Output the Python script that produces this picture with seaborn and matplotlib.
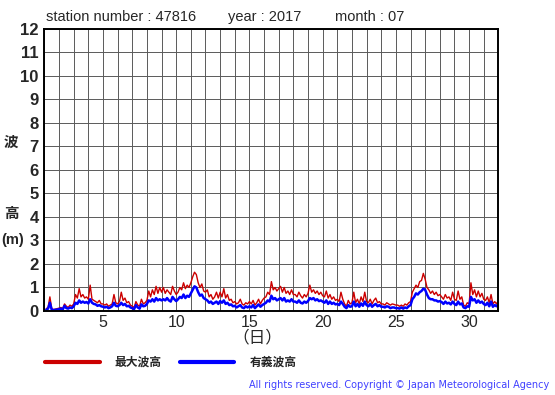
import numpy as np
import pandas as pd
import seaborn as sns
from matplotlib import pyplot as plt
from matplotlib.lines import Line2D
from matplotlib.ticker import MultipleLocator

# 3-hourly values, one row per day (1..31 July 2017)
max_wave = [
    0.10, 0.15, 0.60, 0.10, 0.06, 0.08, 0.10, 0.12,
    0.15, 0.10, 0.30, 0.20, 0.15, 0.25, 0.20, 0.30,
    0.70, 0.55, 0.95, 0.60, 0.70, 0.55, 0.60, 0.50,
    1.10, 0.50, 0.45, 0.40, 0.35, 0.45, 0.30, 0.30,
    0.25, 0.30, 0.20, 0.25, 0.30, 0.70, 0.35, 0.30,
    0.40, 0.80, 0.45, 0.55, 0.35, 0.40, 0.25, 0.20,
    0.15, 0.40, 0.25, 0.20, 0.50, 0.30, 0.35, 0.45,
    0.85, 0.60, 0.90, 0.70, 1.05, 0.75, 1.00, 0.80,
    1.00, 0.75, 0.90, 0.80, 0.70, 1.05, 0.85, 0.70,
    0.80, 1.00, 0.90, 1.20, 0.95, 1.10, 1.00, 1.20,
    1.45, 1.65, 1.55, 1.20, 1.00, 1.15, 0.85, 0.80,
    0.90, 0.60, 0.70, 0.50, 0.60, 0.80, 0.55, 0.80,
    0.60, 0.95, 0.55, 0.70, 0.45, 0.50, 0.35, 0.40,
    0.30, 0.35, 0.50, 0.30, 0.25, 0.35, 0.30, 0.40,
    0.30, 0.45, 0.25, 0.35, 0.50, 0.30, 0.45, 0.55,
    0.60, 0.80, 0.70, 1.25, 0.90, 1.00, 0.85, 0.95,
    1.05, 0.80, 1.00, 0.75, 0.85, 0.70, 0.90, 0.70,
    0.70, 0.60, 0.80, 0.65, 0.55, 0.70, 0.60, 0.75,
    1.10, 0.80, 0.90, 0.75, 0.85, 0.70, 0.80, 0.65,
    0.60, 0.85, 0.55, 0.70, 0.50, 0.60, 0.45, 0.50,
    0.40, 0.80, 0.50, 0.30, 0.20, 0.45, 0.30, 0.35,
    0.80, 0.35, 0.50, 0.30, 0.60, 0.40, 0.80, 0.40,
    0.35, 0.50, 0.30, 0.45, 0.55, 0.35, 0.40, 0.30,
    0.30, 0.25, 0.35, 0.30, 0.25, 0.30, 0.28, 0.25,
    0.25, 0.20, 0.25, 0.20, 0.30, 0.25, 0.35, 0.40,
    0.80, 0.95, 1.10, 1.00, 1.25, 1.30, 1.60, 1.35,
    1.00, 0.90, 0.75, 0.85, 0.70, 0.80, 0.65, 0.70,
    0.60, 0.50, 0.70, 0.55, 0.60, 0.45, 0.80, 0.50,
    0.45, 0.85, 0.50, 0.60, 0.25, 0.20, 0.35, 0.30,
    1.20, 0.70, 0.90, 0.60, 0.85, 0.60, 0.75, 0.50,
    0.45, 0.60, 0.35, 0.70, 0.30, 0.40, 0.30, 0.45,
]
sig_wave = [
    0.05, 0.10, 0.35, 0.05, 0.04, 0.05, 0.06, 0.08,
    0.10, 0.06, 0.22, 0.12, 0.10, 0.15, 0.12, 0.20,
    0.35, 0.30, 0.45, 0.35, 0.40, 0.35, 0.38, 0.32,
    0.50, 0.35, 0.30, 0.28, 0.22, 0.25, 0.20, 0.18,
    0.15, 0.18, 0.12, 0.15, 0.20, 0.35, 0.22, 0.20,
    0.25, 0.35, 0.25, 0.30, 0.20, 0.22, 0.15, 0.12,
    0.08, 0.25, 0.15, 0.10, 0.28, 0.20, 0.22, 0.30,
    0.45, 0.40, 0.50, 0.40, 0.55, 0.45, 0.50, 0.45,
    0.50, 0.45, 0.55, 0.45, 0.40, 0.60, 0.50, 0.42,
    0.50, 0.60, 0.55, 0.70, 0.55, 0.65, 0.60, 0.75,
    0.90, 1.05, 1.00, 0.80, 0.65, 0.70, 0.55, 0.50,
    0.45, 0.35, 0.40, 0.30, 0.35, 0.40, 0.30, 0.42,
    0.35, 0.45, 0.30, 0.35, 0.25, 0.28, 0.20, 0.22,
    0.15, 0.20, 0.25, 0.15, 0.12, 0.20, 0.15, 0.20,
    0.15, 0.25, 0.12, 0.20, 0.28, 0.18, 0.25, 0.30,
    0.35, 0.45, 0.40, 0.65, 0.50, 0.55, 0.45, 0.50,
    0.55, 0.45, 0.55, 0.40, 0.45, 0.40, 0.50, 0.40,
    0.40, 0.35, 0.45, 0.35, 0.32, 0.40, 0.35, 0.42,
    0.55, 0.50, 0.55, 0.45, 0.50, 0.42, 0.45, 0.40,
    0.35, 0.45, 0.30, 0.40, 0.30, 0.35, 0.28, 0.30,
    0.25, 0.40, 0.30, 0.18, 0.12, 0.25, 0.18, 0.20,
    0.40, 0.20, 0.30, 0.18, 0.32, 0.22, 0.40, 0.25,
    0.20, 0.30, 0.18, 0.25, 0.30, 0.20, 0.25, 0.18,
    0.18, 0.15, 0.20, 0.18, 0.12, 0.15, 0.15, 0.12,
    0.12, 0.10, 0.15, 0.10, 0.15, 0.12, 0.20, 0.25,
    0.50, 0.60, 0.75, 0.70, 0.80, 0.85, 0.95, 0.90,
    0.70, 0.55, 0.50, 0.50, 0.45, 0.45, 0.40, 0.42,
    0.38, 0.30, 0.40, 0.32, 0.35, 0.28, 0.40, 0.30,
    0.25, 0.40, 0.28, 0.32, 0.15, 0.12, 0.20, 0.18,
    0.60, 0.45, 0.50, 0.35, 0.45, 0.35, 0.40, 0.30,
    0.25, 0.35, 0.20, 0.40, 0.18, 0.25, 0.20, 0.30,
]
# time axis: day of month, every 3 hours
day_pos = 1 + np.arange(1, len(max_wave) + 1) * 3 / 24

df = pd.DataFrame({"day": day_pos, "max": max_wave, "sig": sig_wave})

sns.set_theme(style="white")
plt.rcParams['font.family'] = ['Liberation Sans', 'Noto Sans CJK JP', 'DejaVu Sans']

fig = plt.figure(figsize=(5.55, 3.95), dpi=100)
ax = fig.add_axes([0.080, 0.2127, 0.818, 0.7139])

sns.lineplot(data=df, x="day", y="max", color="#cc0000", lw=1.0, estimator=None, ax=ax)
sns.lineplot(data=df, x="day", y="sig", color="#0000ff", lw=1.8, estimator=None, ax=ax)

ax.set_xlim(1, 32)
ax.set_ylim(0, 12)
ax.set_xticks([5, 10, 15, 20, 25, 30])
ax.xaxis.set_minor_locator(MultipleLocator(1))
ax.set_yticks(range(0, 13))
ax.grid(which="both", color="#5a5a5a", lw=0.7)
ax.set_axisbelow(True)
ax.tick_params(axis="x", which="both", length=0, pad=3, labelsize=11.5)
ax.tick_params(axis="y", length=0, pad=4, labelsize=12)
for lab in ax.get_yticklabels():
    lab.set_fontweight("bold")
for sp in ax.spines.values():
    sp.set_color("black")
    sp.set_linewidth(1.4)
ax.set_xlabel("")
ax.set_ylabel("")

title_y = 0.957
fig.text(0.083, title_y, "station number : 47816", fontsize=10.5, ha="left", va="center")
fig.text(0.411, title_y, "year : 2017", fontsize=10.5, ha="left", va="center")
fig.text(0.604, title_y, "month : 07", fontsize=10.5, ha="left", va="center")

fig.text(0.463, 0.145, "（日）", fontsize=12, ha="center", va="center")
fig.text(0.020, 0.638, "波", fontsize=10.5, fontweight="bold", ha="center", va="center")
fig.text(0.020, 0.458, "高", fontsize=10.5, fontweight="bold", ha="center", va="center")
fig.text(0.022, 0.392, "(m)", fontsize=10.5, fontweight="bold", ha="center", va="center")

handles = [Line2D([], [], color="#cc0000", lw=3),
           Line2D([], [], color="#0000ff", lw=3)]
leg = fig.legend(handles, ["最大波高", "有義波高"], loc="center left",
                 bbox_to_anchor=(0.0625, 0.081), ncol=2, frameon=False,
                 handlelength=4.6, handletextpad=1.3, columnspacing=1.5,
                 prop={"size": 8.5, "weight": "bold"})

fig.text(0.990, 0.025, "All rights reserved. Copyright © Japan Meteorological Agency",
         fontsize=7, color="#4040ff", ha="right", va="center", family="DejaVu Sans")

fig.savefig("out.png", dpi=100)
